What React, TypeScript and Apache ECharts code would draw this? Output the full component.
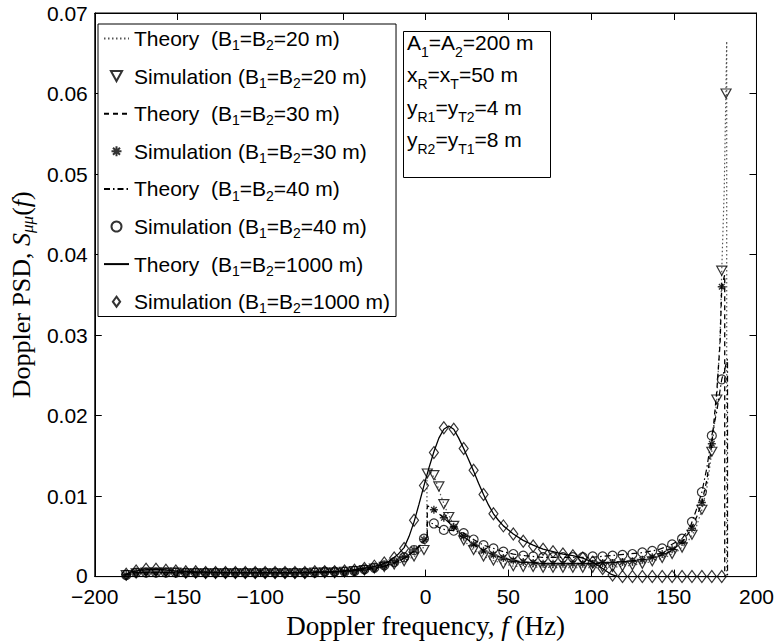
import React, { useEffect, useRef } from "react";
import * as echarts from "echarts";

// ---------- data ----------
const SIM_F = [-181, -175, -169, -163, -157, -151, -145, -139, -133, -127, -121, -115, -109, -103, -97, -91, -85, -79, -73, -67, -61, -55, -49, -43, -37, -31, -25, -19, -13, -7, -1, 5, 11, 17, 23, 29, 35, 41, 47, 53, 59, 65, 71, 77, 83, 89, 95, 101, 107, 113, 119, 125, 131, 137, 143, 149, 155, 161, 167, 173, 179];

const SIM_20 = [0.0002, 0.0004, 0.0005, 0.0005, 0.0005, 0.0005, 0.0004, 0.0004, 0.0004, 0.0004, 0.0004, 0.0004, 0.0004, 0.0004, 0.0004, 0.0004, 0.0004, 0.0004, 0.0004, 0.0005, 0.0005, 0.0005, 0.0006, 0.0007, 0.0008, 0.0010, 0.0012, 0.0015, 0.0019, 0.0025, 0.0033, 0.0126, 0.0090, 0.0063, 0.0045, 0.0033, 0.0025, 0.0020, 0.0016, 0.0013, 0.0012, 0.0012, 0.0011, 0.0011, 0.0011, 0.0011, 0.0011, 0.0011, 0.0012, 0.0012, 0.0013, 0.0014, 0.0016, 0.0019, 0.0023, 0.0028, 0.0036, 0.0052, 0.0083, 0.0155, 0.0380];
const EXTRA20_F = [1, 8, 14, 176, 181.6];
const EXTRA20_V = [0.0128, 0.0112, 0.0074, 0.0220, 0.0600];

const SIM_30 = [0.0002, 0.0005, 0.0005, 0.0005, 0.0005, 0.0005, 0.0005, 0.0005, 0.0005, 0.0005, 0.0005, 0.0005, 0.0005, 0.0005, 0.0005, 0.0005, 0.0005, 0.0005, 0.0005, 0.0005, 0.0006, 0.0006, 0.0006, 0.0007, 0.0009, 0.0011, 0.0014, 0.0018, 0.0024, 0.0033, 0.0046, 0.0083, 0.0073, 0.0062, 0.0050, 0.0040, 0.0032, 0.0027, 0.0023, 0.0020, 0.0018, 0.0017, 0.0016, 0.0016, 0.0016, 0.0016, 0.0016, 0.0016, 0.0017, 0.0017, 0.0018, 0.0019, 0.0021, 0.0024, 0.0028, 0.0034, 0.0043, 0.0060, 0.0092, 0.0165, 0.0360];

const SIM_40 = [0.0002, 0.0005, 0.0005, 0.0005, 0.0005, 0.0005, 0.0005, 0.0005, 0.0005, 0.0005, 0.0005, 0.0005, 0.0005, 0.0005, 0.0005, 0.0005, 0.0005, 0.0005, 0.0005, 0.0005, 0.0006, 0.0006, 0.0006, 0.0007, 0.0009, 0.0011, 0.0014, 0.0018, 0.0024, 0.0033, 0.0047, 0.0066, 0.0058, 0.0057, 0.0054, 0.0046, 0.0039, 0.0035, 0.0031, 0.0028, 0.0026, 0.0025, 0.0024, 0.0024, 0.0024, 0.0024, 0.0024, 0.0025, 0.0025, 0.0026, 0.0027, 0.0028, 0.0030, 0.0032, 0.0035, 0.0040, 0.0047, 0.0068, 0.0105, 0.0175, 0.0245];

const SIM_1000 = [0.0003, 0.0007, 0.0009, 0.0009, 0.0008, 0.0007, 0.0006, 0.0006, 0.0005, 0.0005, 0.0005, 0.0005, 0.0005, 0.0005, 0.0005, 0.0005, 0.0005, 0.0005, 0.0005, 0.0006, 0.0006, 0.0006, 0.0007, 0.0008, 0.0010, 0.0013, 0.0017, 0.0023, 0.0035, 0.0070, 0.0113, 0.0154, 0.0185, 0.0183, 0.0159, 0.0132, 0.0102, 0.0078, 0.0063, 0.0053, 0.0044, 0.0038, 0.0034, 0.0031, 0.0028, 0.0026, 0.0023, 0.0018, 0.0010, 0.0002, 0, 0, 0, 0, 0, 0, 0, 0, 0, 0, 0];

const TH20_F = [-182, -175, -160, -140, -100, -70, -50, -40, -30, -20, -12, -6, -2, 0.8, 0.8, 3, 6, 9, 12, 15, 18, 23, 29, 35, 41, 47, 53, 65, 80, 100, 115, 125, 135, 145, 152, 158, 163, 167, 170, 173, 176, 178, 179, 180.5, 181.5, 182, 182];
const TH20_V = [0.0002, 0.0004, 0.0005, 0.0004, 0.0004, 0.0004, 0.0006, 0.0007, 0.0010, 0.0014, 0.0020, 0.0026, 0.0034, 0.0045, 0.0128, 0.0130, 0.0120, 0.0102, 0.0085, 0.0072, 0.0060, 0.0045, 0.0033, 0.0025, 0.0020, 0.0016, 0.0013, 0.0012, 0.0011, 0.0011, 0.0012, 0.0014, 0.0018, 0.0024, 0.0031, 0.0042, 0.0058, 0.0083, 0.0110, 0.0155, 0.0220, 0.0300, 0.0380, 0.0480, 0.0600, 0.0665, 0];

const TH30_F = [-182, -175, -160, -120, -80, -55, -45, -35, -25, -18, -12, -6, -2, 1, 1, 4, 8, 12, 17, 23, 29, 35, 41, 47, 53, 60, 70, 85, 100, 112, 122, 132, 140, 148, 155, 160, 164, 167, 170, 173, 176, 178, 179, 180.8, 180.8];
const TH30_V = [0.0002, 0.0005, 0.0005, 0.0005, 0.0005, 0.0006, 0.0007, 0.0009, 0.0013, 0.0018, 0.0024, 0.0033, 0.0042, 0.0048, 0.0088, 0.0085, 0.0078, 0.0071, 0.0062, 0.0050, 0.0040, 0.0032, 0.0027, 0.0023, 0.0020, 0.0018, 0.0016, 0.0016, 0.0016, 0.0017, 0.0019, 0.0021, 0.0025, 0.0031, 0.0043, 0.0057, 0.0075, 0.0092, 0.0120, 0.0165, 0.0230, 0.0290, 0.0360, 0.0375, 0];

const TH40_F = [-182, -175, -160, -120, -80, -55, -45, -35, -25, -18, -12, -6, -2, 1, 1, 4, 8, 12, 17, 23, 29, 35, 41, 47, 53, 60, 70, 85, 100, 112, 122, 132, 140, 148, 155, 160, 164, 167, 170, 173, 176, 179, 182.5, 182.5];
const TH40_V = [0.0002, 0.0005, 0.0005, 0.0005, 0.0005, 0.0006, 0.0007, 0.0009, 0.0013, 0.0018, 0.0024, 0.0033, 0.0042, 0.0049, 0.0068, 0.0066, 0.0061, 0.0058, 0.0057, 0.0054, 0.0046, 0.0039, 0.0035, 0.0031, 0.0028, 0.0026, 0.0024, 0.0024, 0.0024, 0.0026, 0.0028, 0.0030, 0.0033, 0.0039, 0.0047, 0.0062, 0.0085, 0.0105, 0.0135, 0.0175, 0.0205, 0.0245, 0.0270, 0];

const TH1000_F = [-182, -178, -172, -166, -160, -152, -140, -120, -90, -70, -55, -45, -35, -28, -22, -17, -13, -10, -7, -4, -1, 2, 5, 8, 11, 14, 17, 20, 23, 26, 29, 32, 35, 38, 41, 44, 47, 53, 59, 65, 71, 77, 83, 89, 95, 101, 107, 112, 116, 182];
const TH1000_V = [0.0002, 0.0006, 0.0008, 0.0009, 0.0009, 0.0007, 0.0006, 0.0005, 0.0005, 0.0005, 0.0006, 0.0008, 0.0011, 0.0014, 0.0019, 0.0027, 0.0036, 0.0050, 0.0068, 0.0090, 0.0113, 0.0135, 0.0155, 0.0172, 0.0183, 0.0187, 0.0183, 0.0172, 0.0159, 0.0145, 0.0131, 0.0116, 0.0102, 0.0089, 0.0078, 0.0070, 0.0063, 0.0053, 0.0045, 0.0039, 0.0034, 0.0031, 0.0028, 0.0026, 0.0023, 0.0018, 0.0010, 0.0003, 0, 0];

const LEGEND_NAMES = [
  "Theory  (B_1=B_2=20 m)",
  "Simulation (B_1=B_2=20 m)",
  "Theory  (B_1=B_2=30 m)",
  "Simulation (B_1=B_2=30 m)",
  "Theory  (B_1=B_2=40 m)",
  "Simulation (B_1=B_2=40 m)",
  "Theory  (B_1=B_2=1000 m)",
  "Simulation (B_1=B_2=1000 m)",
];

const PARAM_LINES = ["A_1=A_2=200 m", "x_R=x_T=50 m", "y_{R1}=y_{T2}=4 m", "y_{R2}=y_{T1}=8 m"];

const X_MIN = -200, X_MAX = 200, X_STEP = 50;
const Y_MIN = 0, Y_MAX = 0.07, Y_STEP = 0.01;

// ---------- helpers ----------
const zip = (f: number[], v: number[]) => f.map((x, i) => [x, v[i]]);

function toRich(s: string, main: string, sub: string): string {
  let out = "";
  let buf = "";
  let i = 0;
  while (i < s.length) {
    if (s[i] === "_") {
      if (buf) { out += `{${main}|${buf}}`; buf = ""; }
      let t: string;
      if (s[i + 1] === "{") {
        const j = s.indexOf("}", i);
        t = s.slice(i + 2, j);
        i = j + 1;
      } else {
        t = s[i + 1];
        i += 2;
      }
      out += `{${sub}|${t}}`;
    } else {
      buf += s[i];
      i++;
    }
  }
  if (buf) out += `{${main}|${buf}}`;
  return out;
}

const SANS = "'Liberation Sans', Arial, Helvetica, sans-serif";
const SERIF = "'Liberation Serif', 'Times New Roman', serif";

const CLEAR = "rgba(0,0,0,0)";
const hollow = { color: CLEAR, borderColor: "#000", borderWidth: 1.2 };

const STAR_PATH = "path://M0 -5 L0 5 M-5 0 L5 0 M-3.5 -3.5 L3.5 3.5 M-3.5 3.5 L3.5 -3.5";
const TRI_DOWN_ICON = "path://M0 0 L10 0 L5 9 Z";
const DIAMOND_ICON = "path://M4 0 L8 5.5 L4 11 L0 5.5 Z";

export default function App() {
  const ref = useRef<HTMLDivElement>(null);

  useEffect(() => {
    if (!ref.current) return;
    const chart = echarts.init(ref.current, undefined, { renderer: "svg" });

    const sim20 = zip(SIM_F, SIM_20).concat(zip(EXTRA20_F, EXTRA20_V));

    const axisCommonX = {
      type: "value" as const,
      min: X_MIN,
      max: X_MAX,
      interval: X_STEP,
      splitLine: { show: false },
      axisLine: { show: true, onZero: false, lineStyle: { color: "#000", width: 1 } },
      axisTick: { show: true, inside: true, length: 7, lineStyle: { color: "#000" } },
    };
    const axisCommonY = {
      type: "value" as const,
      min: Y_MIN,
      max: Y_MAX,
      interval: Y_STEP,
      splitLine: { show: false },
      axisLine: { show: true, onZero: false, lineStyle: { color: "#000", width: 1 } },
      axisTick: { show: true, inside: true, length: 7, lineStyle: { color: "#000" } },
    };

    const legendData = LEGEND_NAMES.map((name, i) => {
      if (i % 2 === 0) {
        return { name, itemStyle: { color: CLEAR, borderWidth: 0, opacity: 0 } };
      }
      if (i === 1) return { name, icon: TRI_DOWN_ICON };
      if (i === 7) return { name, icon: DIAMOND_ICON };
      return { name };
    });

    const option: any = {
      animation: false,
      backgroundColor: "#fff",
      grid: { left: 87, right: 19, top: 13, bottom: 63, show: true, borderColor: "#000", borderWidth: 1 },
      title: {
        text: PARAM_LINES.map((l) => toRich(l, "p", "q")).join("\n"),
        left: 403,
        top: 25,
        padding: [1, 17, 22, 4],
        borderColor: "#000",
        borderWidth: 1,
        backgroundColor: "#fff",
        textStyle: {
          fontFamily: SANS,
          fontWeight: "normal",
          fontSize: 21,
          color: "#000",
          rich: {
            p: { fontFamily: SANS, fontSize: 21, fontWeight: "normal", color: "#000", lineHeight: 32.5 },
            q: { fontFamily: SANS, fontSize: 14, fontWeight: "normal", color: "#000", lineHeight: 12, verticalAlign: "bottom" },
          },
        },
      },
      legend: {
        orient: "vertical",
        left: 98,
        top: 24,
        padding: [4, 6, 1, 5],
        itemGap: 13.3,
        itemWidth: 25,
        itemHeight: 10,
        borderColor: "#000",
        borderWidth: 1,
        backgroundColor: "#fff",
        selectedMode: false,
        data: legendData,
        formatter: (n: string) => toRich(n, "t", "s"),
        textStyle: {
          fontFamily: SANS,
          fontSize: 21,
          color: "#000",
          rich: {
            t: { fontFamily: SANS, fontSize: 21, color: "#000", lineHeight: 27.6 },
            s: { fontFamily: SANS, fontSize: 14, color: "#000", lineHeight: 12, verticalAlign: "bottom" },
          },
        },
      },
      xAxis: [
        {
          ...axisCommonX,
          position: "bottom",
          axisLabel: {
            color: "#000",
            fontFamily: SANS,
            fontSize: 21,
            lineHeight: 14,
            margin: 13,
            formatter: (v: number) => (v < 0 ? "\u2212" + Math.abs(v) : String(v)),
          },
          name: "{a|Doppler frequency, }{i|f}{a| (Hz)}",
          nameLocation: "middle",
          nameGap: 29,
          nameTextStyle: {
            rich: {
              a: { fontFamily: SERIF, fontSize: 27, color: "#000" },
              i: { fontFamily: SERIF, fontSize: 27, fontStyle: "italic", color: "#000" },
            },
          },
        },
        { ...axisCommonX, position: "top", axisLabel: { show: false } },
      ],
      yAxis: [
        {
          ...axisCommonY,
          position: "left",
          axisLabel: {
            color: "#000",
            fontFamily: SANS,
            fontSize: 21,
            lineHeight: 14,
            margin: 7,
            formatter: (v: number) => (v === 0 ? "{z|0}" : String(v)),
            rich: {
              z: { fontFamily: SANS, fontSize: 21, color: "#000", lineHeight: 14, padding: [0, 0, 3, 0] },
            },
          },
          name: "{a|Doppler PSD, }{i|S}{s|\u03bc\u03bc}{a|(}{i|f}{a|)}",
          nameLocation: "middle",
          nameGap: 56,
          nameTextStyle: {
            rich: {
              a: { fontFamily: SERIF, fontSize: 26, color: "#000", lineHeight: 30 },
              i: { fontFamily: SERIF, fontSize: 26, fontStyle: "italic", color: "#000", lineHeight: 30 },
              s: { fontFamily: SERIF, fontSize: 17, fontStyle: "italic", color: "#000", lineHeight: 12, verticalAlign: "bottom" },
            },
          },
        },
        { ...axisCommonY, position: "right", axisLabel: { show: false } },
      ],
      series: [
        {
          name: LEGEND_NAMES[0],
          type: "line",
          data: zip(TH20_F, TH20_V),
          symbol: "none",
          lineStyle: { color: "#555", width: 1.2, type: [1.5, 2.5] },
          itemStyle: { color: CLEAR },
          z: 3,
        },
        {
          name: LEGEND_NAMES[1],
          type: "scatter",
          data: sim20,
          symbol: "triangle",
          symbolRotate: 180,
          symbolSize: [10, 9],
          itemStyle: hollow,
          z: 4,
        },
        {
          name: LEGEND_NAMES[2],
          type: "line",
          data: zip(TH30_F, TH30_V),
          symbol: "none",
          lineStyle: { color: "#000", width: 1.3, type: [5, 4] },
          itemStyle: { color: CLEAR },
          z: 3,
        },
        {
          name: LEGEND_NAMES[3],
          type: "scatter",
          data: zip(SIM_F, SIM_30),
          symbol: STAR_PATH,
          symbolSize: 8,
          itemStyle: { color: CLEAR, borderColor: "#000", borderWidth: 1.4 },
          z: 4,
        },
        {
          name: LEGEND_NAMES[4],
          type: "line",
          data: zip(TH40_F, TH40_V),
          symbol: "none",
          lineStyle: { color: "#000", width: 1.2, type: [6, 3, 1.5, 3] },
          itemStyle: { color: CLEAR },
          z: 3,
        },
        {
          name: LEGEND_NAMES[5],
          type: "scatter",
          data: zip(SIM_F, SIM_40),
          symbol: "circle",
          symbolSize: 9,
          itemStyle: hollow,
          z: 4,
        },
        {
          name: LEGEND_NAMES[6],
          type: "line",
          data: zip(TH1000_F, TH1000_V),
          symbol: "none",
          lineStyle: { color: "#000", width: 1.3, type: "solid" },
          itemStyle: { color: CLEAR },
          z: 3,
        },
        {
          name: LEGEND_NAMES[7],
          type: "scatter",
          data: zip(SIM_F, SIM_1000),
          symbol: "diamond",
          symbolSize: [9, 12],
          itemStyle: hollow,
          z: 4,
        },
      ],
    };

    chart.setOption(option);
    return () => chart.dispose();
  }, []);

  return (
    <div
      ref={ref}
      style={{ position: "fixed", left: 0, top: 0, width: 777, height: 644, background: "#fff" }}
    />
  );
}
